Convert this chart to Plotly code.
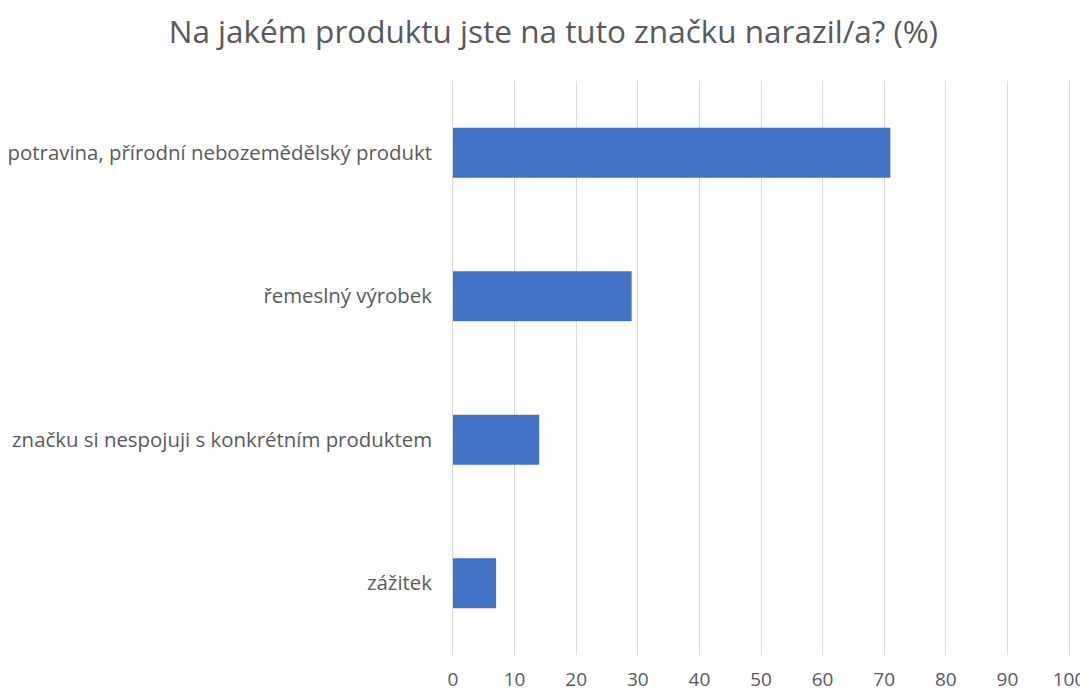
import plotly.graph_objects as go

# ── Data ─────────────────────────────────────────────
categories = [
    "potravina, přírodní nebozemědělský produkt",
    "řemeslný výrobek",
    "značku si nespojuji s konkrétním produktem",
    "zážitek",
]
values = [71, 29, 14, 7]
x_ticks = list(range(0, 101, 10))

TITLE = "Na jakém produktu jste na tuto značku narazil/a? (%)"
TEXT_GREY = "#595959"
GRID_GREY = "#d9d9d9"
BAR_BLUE = "#4472C4"

fig = go.Figure()

fig.add_trace(go.Bar(
    x=values,
    y=categories,
    orientation="h",
    marker=dict(color=BAR_BLUE, line=dict(width=0)),
    hovertemplate="%{y}: %{x}%<extra></extra>",
))

# page body has an 8px default margin, so the figure is sized a bit smaller
fig.update_layout(
    width=1080,
    height=685,
    paper_bgcolor="white",
    plot_bgcolor="white",
    margin=dict(l=445, r=19, t=73, b=38),
    bargap=0.65,
    showlegend=False,
    title=dict(
        text=TITLE,
        x=0.505,
        xanchor="center",
        yref="container",
        y=0.965,
        yanchor="middle",
        font=dict(family="Open Sans, sans-serif", size=31.5, color=TEXT_GREY),
    ),
    xaxis=dict(
        range=[0, 100],
        tickvals=x_ticks,
        showgrid=True,
        gridcolor=GRID_GREY,
        gridwidth=1,
        zeroline=False,
        showline=False,
        ticks="",
        ticklabelstandoff=11,
        automargin=False,
        tickfont=dict(family="Open Sans, sans-serif", size=19, color=TEXT_GREY),
    ),
    yaxis=dict(
        autorange="reversed",
        showgrid=False,
        zeroline=False,
        showline=True,
        mirror=True,
        linecolor=GRID_GREY,
        linewidth=1,
        ticks="",
        ticksuffix="   ",
        automargin=False,
        tickfont=dict(family="Open Sans, sans-serif", size=20.4, color=TEXT_GREY),
    ),
)

fig.write_html("out.html")
